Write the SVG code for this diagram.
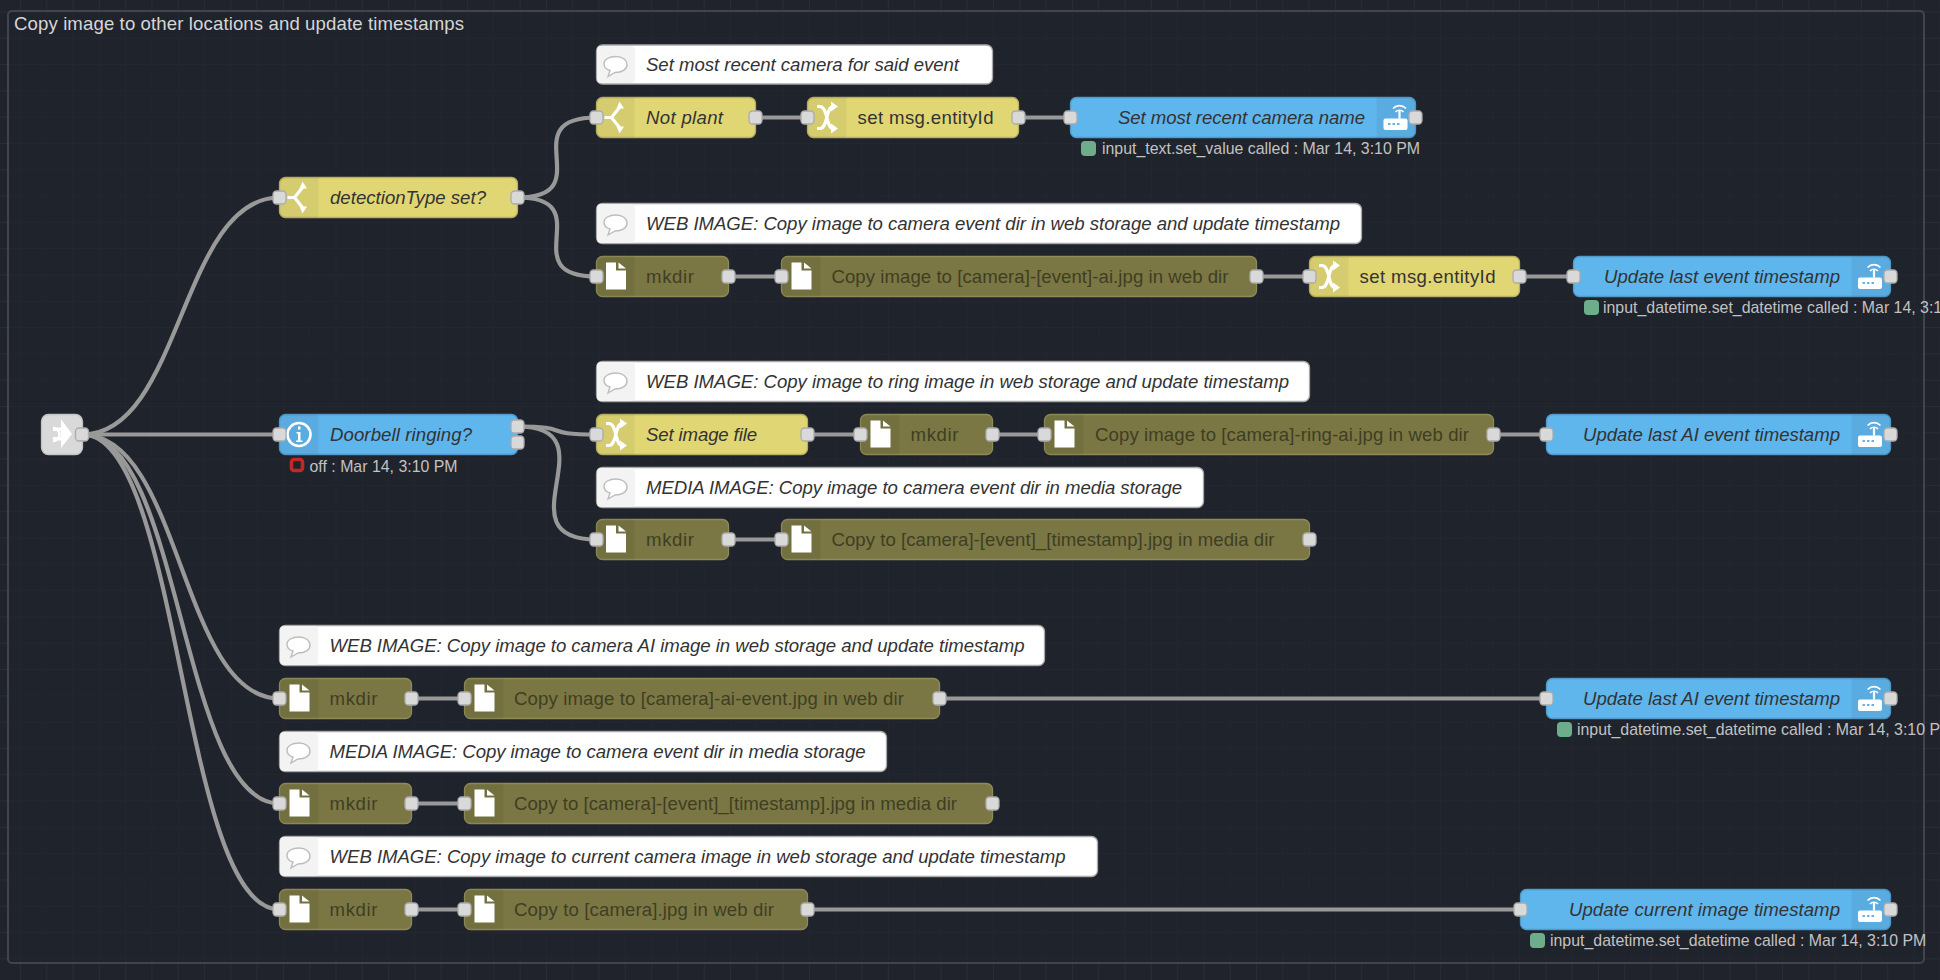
<svg xmlns="http://www.w3.org/2000/svg" width="1940" height="980" viewBox="0 0 1940 980">
<defs>
<pattern id="grid" width="26.3" height="26.3" patternUnits="userSpaceOnUse" patternTransform="translate(20.9 12.5)"><path d="M26.3 0V26.3M0 26.3H26.3" fill="none" stroke="#2d3039" stroke-width="1.300"/></pattern>
<g id="i-file"><path d="M-10 -13.500H0V-5.500H10V13.500H-10Z" fill="#fff"/><path d="M2.500 -13.500L10 -7.500H2.500Z" fill="#fff"/></g>
<g id="i-switch"><path d="M-11 0H-4M-4 0L4 -10M-4 0L4 10" fill="none" stroke="#fff" stroke-width="3.200"/><path d="M4 -16L8.500 -9H1ZM4 16L8.500 9H1Z" fill="#fff"/></g>
<g id="i-change"><path d="M-10 -11H-7C1 -11 -1 11 6 11M-10 11H-7C1 11 -1 -11 6 -11" fill="none" stroke="#fff" stroke-width="3.200"/><path d="M4 -16L11 -11L4 -6ZM4 16L11 11L4 6Z" fill="#fff"/></g>
<g id="i-comment"><path d="M0 -9C7 -9 11 -5 11 -1C11 4 6 7 -1 7L-8 11L-6 5C-10 4 -12 1 -12 -2C-12 -6 -7 -9 0 -9Z" fill="#fff" stroke="#bdbdbd" stroke-width="1.400"/></g>
<g id="i-router"><rect x="-12" y="1" width="24" height="11.500" rx="2" fill="#fff"/><path d="M4 1V-7" stroke="#fff" stroke-width="2.200"/><path d="M0 -5.500A5.500 5.500 0 0 1 8 -5.500M-2.500 -9A9 9 0 0 1 10.500 -9" fill="none" stroke="#fff" stroke-width="1.700"/><path d="M-7.500 6.500H-5M-3 6.500H-.5M1.500 6.500H4" stroke="#5fb6ed" stroke-width="2.200"/></g>
</defs>
<style>
text{font-family:"Liberation Sans",Arial,sans-serif;font-size:18.6px}
.n{stroke-width:1.3}
.y{fill:#e0d774;stroke:#b8b060}.o{fill:#7a7744;stroke:#8f8b57}.b{fill:#5fb6ed;stroke:#5199c8}.w{fill:#fff;stroke:#a8a8a8}
.t{fill:#333;font-style:italic}.u{fill:#333}.d{fill:#3f3e23}
.s{fill:#000;fill-opacity:.05}.c{fill:#f3f3f3}
.p{fill:#d9d9d9;stroke:#ababab;stroke-width:1.3}
.st{fill:#c2c2c2;font-size:15.9px}.dot{fill:#6ead8b}
.wire{fill:none;stroke:#999;stroke-width:4.2}
</style>
<rect width="1940" height="980" fill="#20232b"/>
<rect width="1940" height="980" fill="url(#grid)"/>
<g id="group"><rect x="8" y="11" width="1916" height="952" rx="4" fill="#20232b" fill-opacity=".6" stroke="#41444f" stroke-width="2"/><text x="14" y="30" fill="#d6d6d6" textLength="450">Copy image to other locations and update timestamps</text></g>
<g id="connectors" class="wire" transform="translate(.5 .5)">
<path d="M82 434C181 434 180 197 279 197"/>
<path d="M82 434H279"/>
<path d="M82 434C181 434 180 698 279 698"/>
<path d="M82 434C181 434 180 803 279 803"/>
<path d="M82 434C181 434 180 909 279 909"/>
<path d="M517 197C601 197 511 117 596 117"/>
<path d="M517 197C601 197 511 276 596 276"/>
<path d="M755 117H807M1018 117H1070"/>
<path d="M728 276H781M1256 276H1309M1519 276H1573"/>
<path d="M517 426C575 426 537 434 596 434"/>
<path d="M517 426C614 426 498 539 596 539"/>
<path d="M807 434H860M992 434H1044M1493 434H1546"/>
<path d="M728 539H781"/>
<path d="M411 698H464M939 698H1546"/>
<path d="M411 803H464"/>
<path d="M411 909H464M807 909H1520"/>
</g>
<g id="n-link"><rect class="n" x="41.500" y="414.500" width="41" height="40" rx="7" fill="#d9d9d9" stroke="#c4c4c4"/><path d="M61 419L72 434L61 448V440.500H53V437H61V431H53V427.500H61Z" fill="#fff"/><path d="M53 428A6.500 6.500 0 0 1 53 441" fill="none" stroke="#fff" stroke-width="2.500"/><rect class="p" x="75.500" y="428" width="13" height="13" rx="3.500"/></g>
<g id="n-detection"><rect class="n y" x="279.500" y="177.500" width="238" height="40" rx="6"/><rect class="s" x="279.500" y="177.500" width="39" height="40"/><use href="#i-switch" x="298.500" y="197.500"/><text class="t" x="330" y="204" textLength="156">detectionType set?</text><rect class="p" x="273" y="191" width="13" height="13" rx="3.500"/><rect class="p" x="511" y="191" width="13" height="13" rx="3.500"/></g>
<g id="n-c1"><rect class="n w" x="596.500" y="45" width="396" height="39" rx="6"/><rect class="c" x="597" y="46" width="38" height="37" rx="4"/><use href="#i-comment" x="616" y="65.500"/><text class="t" x="646" y="71" textLength="313">Set most recent camera for said event</text></g>
<g id="n-notplant"><rect class="n y" x="596.500" y="97.500" width="159" height="40" rx="6"/><rect class="s" x="596.500" y="97.500" width="38" height="40"/><use href="#i-switch" x="615.500" y="117.500"/><text class="t" x="646" y="124" textLength="77">Not plant</text><rect class="p" x="590" y="111" width="13" height="13" rx="3.500"/><rect class="p" x="749" y="111" width="13" height="13" rx="3.500"/></g>
<g id="n-setid1"><rect class="n y" x="807.500" y="97.500" width="211" height="40" rx="6"/><rect class="s" x="807.500" y="97.500" width="39" height="40"/><use href="#i-change" x="827" y="117.500"/><text class="u" x="857.500" y="124" textLength="136">set msg.entityId</text><rect class="p" x="801" y="111" width="13" height="13" rx="3.500"/><rect class="p" x="1012" y="111" width="13" height="13" rx="3.500"/></g>
<g id="n-ha1"><rect class="n b" x="1070.500" y="97.500" width="345" height="40" rx="6"/><rect class="s" x="1376.500" y="97.500" width="39" height="40"/><use href="#i-router" x="1395.500" y="117.500"/><text class="t" x="1365" y="124" text-anchor="end" textLength="247">Set most recent camera name</text><rect class="p" x="1064" y="111" width="13" height="13" rx="3.500"/><rect class="p" x="1409" y="111" width="13" height="13" rx="3.500"/><rect class="dot" x="1081" y="141" width="15" height="15" rx="4"/><text class="st" x="1102" y="154">input_text.set_value called : Mar 14, 3:10 PM</text></g>
<g id="n-c2"><rect class="n w" x="596.500" y="203.500" width="765" height="40" rx="6"/><rect class="c" x="597" y="204" width="38" height="39" rx="4"/><use href="#i-comment" x="616" y="224"/><text class="t" x="646" y="229.500" textLength="694">WEB IMAGE: Copy image to camera event dir in web storage and update timestamp</text></g>
<g id="n-mk1"><rect class="n o" x="596.500" y="256.500" width="132" height="40" rx="6"/><rect class="s" x="596.500" y="256.500" width="38" height="40"/><use href="#i-file" x="616" y="276"/><text class="d" x="646" y="283" textLength="48">mkdir</text><rect class="p" x="590" y="270" width="13" height="13" rx="3.500"/><rect class="p" x="722" y="270" width="13" height="13" rx="3.500"/></g>
<g id="n-cp1"><rect class="n o" x="781.500" y="256.500" width="475" height="40" rx="6"/><rect class="s" x="781.500" y="256.500" width="39" height="40"/><use href="#i-file" x="801.500" y="276"/><text class="d" x="831.500" y="283" textLength="397">Copy image to [camera]-[event]-ai.jpg in web dir</text><rect class="p" x="775" y="270" width="13" height="13" rx="3.500"/><rect class="p" x="1250" y="270" width="13" height="13" rx="3.500"/></g>
<g id="n-setid2"><rect class="n y" x="1309.500" y="256.500" width="210" height="40" rx="6"/><rect class="s" x="1309.500" y="256.500" width="39" height="40"/><use href="#i-change" x="1329" y="276.500"/><text class="u" x="1359.500" y="283" textLength="136">set msg.entityId</text><rect class="p" x="1303" y="270" width="13" height="13" rx="3.500"/><rect class="p" x="1513" y="270" width="13" height="13" rx="3.500"/></g>
<g id="n-ha2"><rect class="n b" x="1573.500" y="256.500" width="317" height="40" rx="6"/><rect class="s" x="1851.500" y="256.500" width="39" height="40"/><use href="#i-router" x="1870" y="276.500"/><text class="t" x="1840" y="283" text-anchor="end" textLength="236">Update last event timestamp</text><rect class="p" x="1567" y="270" width="13" height="13" rx="3.500"/><rect class="p" x="1884" y="270" width="13" height="13" rx="3.500"/><rect class="dot" x="1584" y="300" width="15" height="15" rx="4"/><text class="st" x="1603" y="313">input_datetime.set_datetime called : Mar 14, 3:10 PM</text></g>
<g id="n-c3"><rect class="n w" x="596.500" y="361.500" width="713" height="40" rx="6"/><rect class="c" x="597" y="362" width="38" height="39" rx="4"/><use href="#i-comment" x="616" y="382"/><text class="t" x="646" y="388" textLength="643">WEB IMAGE: Copy image to ring image in web storage and update timestamp</text></g>
<g id="n-door"><rect class="n b" x="279.500" y="414.500" width="238" height="40" rx="6"/><rect class="s" x="279.500" y="414.500" width="39" height="40"/><circle cx="299" cy="434.500" r="11.500" fill="none" stroke="#fff" stroke-width="2.600"/><path d="M296.500 432H300.500V440.500H302.500V442H296V440.500H298V433.500H296.500ZM298 426.500H300.500V429.500H298Z" fill="#fff"/><text class="t" x="330" y="441" textLength="142">Doorbell ringing?</text><rect class="p" x="273" y="428" width="13" height="13" rx="3.500"/><rect class="p" x="511" y="420" width="13" height="13" rx="3.500"/><rect class="p" x="511" y="436" width="13" height="13" rx="3.500"/><rect x="291.500" y="459.500" width="11" height="11" rx="2.500" fill="none" stroke="#c0282a" stroke-width="3.600"/><text class="st" x="309.500" y="471.500">off : Mar 14, 3:10 PM</text></g>
<g id="n-setimg"><rect class="n y" x="596.500" y="414.500" width="211" height="40" rx="6"/><rect class="s" x="596.500" y="414.500" width="38" height="40"/><use href="#i-change" x="616" y="434.500"/><text class="t" x="646" y="441" textLength="111">Set image file</text><rect class="p" x="590" y="428" width="13" height="13" rx="3.500"/><rect class="p" x="801" y="428" width="13" height="13" rx="3.500"/></g>
<g id="n-mk2"><rect class="n o" x="860.500" y="414.500" width="132" height="40" rx="6"/><rect class="s" x="860.500" y="414.500" width="39" height="40"/><use href="#i-file" x="880.500" y="434"/><text class="d" x="910.500" y="441" textLength="48">mkdir</text><rect class="p" x="854" y="428" width="13" height="13" rx="3.500"/><rect class="p" x="986" y="428" width="13" height="13" rx="3.500"/></g>
<g id="n-cp2"><rect class="n o" x="1044.500" y="414.500" width="449" height="40" rx="6"/><rect class="s" x="1044.500" y="414.500" width="39" height="40"/><use href="#i-file" x="1064.500" y="434"/><text class="d" x="1095" y="441" textLength="374">Copy image to [camera]-ring-ai.jpg in web dir</text><rect class="p" x="1038" y="428" width="13" height="13" rx="3.500"/><rect class="p" x="1487" y="428" width="13" height="13" rx="3.500"/></g>
<g id="n-ha3"><rect class="n b" x="1546.500" y="414.500" width="344" height="40" rx="6"/><rect class="s" x="1851.500" y="414.500" width="39" height="40"/><use href="#i-router" x="1870" y="434.500"/><text class="t" x="1840" y="441" text-anchor="end" textLength="257">Update last AI event timestamp</text><rect class="p" x="1540" y="428" width="13" height="13" rx="3.500"/><rect class="p" x="1884" y="428" width="13" height="13" rx="3.500"/></g>
<g id="n-c4"><rect class="n w" x="596.500" y="467.500" width="607" height="40" rx="6"/><rect class="c" x="597" y="468" width="38" height="39" rx="4"/><use href="#i-comment" x="616" y="488"/><text class="t" x="646" y="494" textLength="536">MEDIA IMAGE: Copy image to camera event dir in media storage</text></g>
<g id="n-mk3"><rect class="n o" x="596.500" y="519.500" width="132" height="40" rx="6"/><rect class="s" x="596.500" y="519.500" width="38" height="40"/><use href="#i-file" x="616" y="539"/><text class="d" x="646" y="546" textLength="48">mkdir</text><rect class="p" x="590" y="533" width="13" height="13" rx="3.500"/><rect class="p" x="722" y="533" width="13" height="13" rx="3.500"/></g>
<g id="n-cp3"><rect class="n o" x="781.500" y="519.500" width="528" height="40" rx="6"/><rect class="s" x="781.500" y="519.500" width="39" height="40"/><use href="#i-file" x="801.500" y="539"/><text class="d" x="831.500" y="546" textLength="443">Copy to [camera]-[event]_[timestamp].jpg in media dir</text><rect class="p" x="775" y="533" width="13" height="13" rx="3.500"/><rect class="p" x="1303" y="533" width="13" height="13" rx="3.500"/></g>
<g id="n-c5"><rect class="n w" x="279.500" y="625.500" width="765" height="40" rx="6"/><rect class="c" x="280" y="626" width="38" height="39" rx="4"/><use href="#i-comment" x="299" y="646"/><text class="t" x="329.500" y="652" textLength="695">WEB IMAGE: Copy image to camera AI image in web storage and update timestamp</text></g>
<g id="n-mk4"><rect class="n o" x="279.500" y="678.500" width="132" height="40" rx="6"/><rect class="s" x="279.500" y="678.500" width="39" height="40"/><use href="#i-file" x="299.500" y="698"/><text class="d" x="329.500" y="705" textLength="48">mkdir</text><rect class="p" x="273" y="692" width="13" height="13" rx="3.500"/><rect class="p" x="405" y="692" width="13" height="13" rx="3.500"/></g>
<g id="n-cp4"><rect class="n o" x="464.500" y="678.500" width="475" height="40" rx="6"/><rect class="s" x="464.500" y="678.500" width="39" height="40"/><use href="#i-file" x="484.500" y="698"/><text class="d" x="514" y="705" textLength="390">Copy image to [camera]-ai-event.jpg in web dir</text><rect class="p" x="458" y="692" width="13" height="13" rx="3.500"/><rect class="p" x="933" y="692" width="13" height="13" rx="3.500"/></g>
<g id="n-ha4"><rect class="n b" x="1546.500" y="678.500" width="344" height="40" rx="6"/><rect class="s" x="1851.500" y="678.500" width="39" height="40"/><use href="#i-router" x="1870" y="698.500"/><text class="t" x="1840" y="705" text-anchor="end" textLength="257">Update last AI event timestamp</text><rect class="p" x="1540" y="692" width="13" height="13" rx="3.500"/><rect class="p" x="1884" y="692" width="13" height="13" rx="3.500"/><rect class="dot" x="1557" y="722" width="15" height="15" rx="4"/><text class="st" x="1577" y="735">input_datetime.set_datetime called : Mar 14, 3:10 PM</text></g>
<g id="n-c6"><rect class="n w" x="279.500" y="731.500" width="607" height="40" rx="6"/><rect class="c" x="280" y="732" width="38" height="39" rx="4"/><use href="#i-comment" x="299" y="752"/><text class="t" x="329.500" y="757.500" textLength="536">MEDIA IMAGE: Copy image to camera event dir in media storage</text></g>
<g id="n-mk5"><rect class="n o" x="279.500" y="783.500" width="132" height="40" rx="6"/><rect class="s" x="279.500" y="783.500" width="39" height="40"/><use href="#i-file" x="299.500" y="803"/><text class="d" x="329.500" y="810" textLength="48">mkdir</text><rect class="p" x="273" y="797" width="13" height="13" rx="3.500"/><rect class="p" x="405" y="797" width="13" height="13" rx="3.500"/></g>
<g id="n-cp5"><rect class="n o" x="464.500" y="783.500" width="528" height="40" rx="6"/><rect class="s" x="464.500" y="783.500" width="39" height="40"/><use href="#i-file" x="484.500" y="803"/><text class="d" x="514" y="810" textLength="443">Copy to [camera]-[event]_[timestamp].jpg in media dir</text><rect class="p" x="458" y="797" width="13" height="13" rx="3.500"/><rect class="p" x="986" y="797" width="13" height="13" rx="3.500"/></g>
<g id="n-c7"><rect class="n w" x="279.500" y="836.500" width="818" height="40" rx="6"/><rect class="c" x="280" y="837" width="38" height="39" rx="4"/><use href="#i-comment" x="299" y="857"/><text class="t" x="329.500" y="863" textLength="736">WEB IMAGE: Copy image to current camera image in web storage and update timestamp</text></g>
<g id="n-mk6"><rect class="n o" x="279.500" y="889.500" width="132" height="40" rx="6"/><rect class="s" x="279.500" y="889.500" width="39" height="40"/><use href="#i-file" x="299.500" y="909"/><text class="d" x="329.500" y="916" textLength="48">mkdir</text><rect class="p" x="273" y="903" width="13" height="13" rx="3.500"/><rect class="p" x="405" y="903" width="13" height="13" rx="3.500"/></g>
<g id="n-cp6"><rect class="n o" x="464.500" y="889.500" width="343" height="40" rx="6"/><rect class="s" x="464.500" y="889.500" width="39" height="40"/><use href="#i-file" x="484.500" y="909"/><text class="d" x="514" y="916" textLength="260">Copy to [camera].jpg in web dir</text><rect class="p" x="458" y="903" width="13" height="13" rx="3.500"/><rect class="p" x="801" y="903" width="13" height="13" rx="3.500"/></g>
<g id="n-ha5"><rect class="n b" x="1520.500" y="889.500" width="370" height="40" rx="6"/><rect class="s" x="1851.500" y="889.500" width="39" height="40"/><use href="#i-router" x="1870" y="909.500"/><text class="t" x="1840" y="916" text-anchor="end" textLength="271">Update current image timestamp</text><rect class="p" x="1514" y="903" width="13" height="13" rx="3.500"/><rect class="p" x="1884" y="903" width="13" height="13" rx="3.500"/><rect class="dot" x="1530" y="933" width="15" height="15" rx="4"/><text class="st" x="1550" y="946">input_datetime.set_datetime called : Mar 14, 3:10 PM</text></g>
</svg>
